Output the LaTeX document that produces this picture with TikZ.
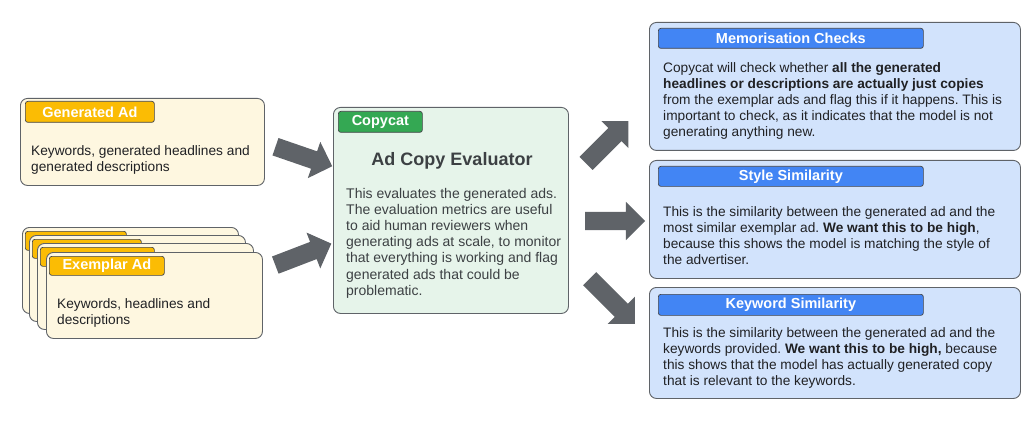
\documentclass[tikz,border=0pt]{standalone}
\usepackage{fontspec}
\setmainfont{Liberation Sans}
\usetikzlibrary{calc,positioning,shapes.arrows}
\frenchspacing

\definecolor{cardCream}{HTML}{FEF7E0}
\definecolor{cardGreen}{HTML}{E6F4EA}
\definecolor{cardBlue}{HTML}{D2E3FC}
\definecolor{tagYellow}{HTML}{FBBC04}
\definecolor{tagGreen}{HTML}{34A853}
\definecolor{tagBlue}{HTML}{4285F4}
\definecolor{edgeGray}{HTML}{5F6368}
\definecolor{inkGray}{HTML}{202124}
\definecolor{softInk}{HTML}{3C4043}

\tikzset{
  card/.style={draw=edgeGray, line width=0.9pt, rounded corners=7pt,
    anchor=north west, inner sep=0pt},
  tag/.style={draw=edgeGray!70!black, line width=0.7pt, rounded corners=2.5pt,
    anchor=north west, inner sep=0pt, text=white,
    font=\fontsize{14.5}{16}\selectfont\bfseries},
  body/.style={anchor=north west, inner sep=0pt, align=left, text=inkGray,
    font=\fontsize{13.7}{16}\selectfont, execute at begin node={\strut}},
  fatarrow/.style={single arrow, fill=edgeGray, inner sep=0pt, inner ysep=9pt,
    minimum height=60pt, single arrow head extend=10pt}
}

% one sheet of the exemplar stack: name, top left corner, tag width
\newcommand{\exSheet}[4]{
    \node[card, fill=cardCream, minimum width=216, minimum height=86] (#1) at #2 {};
    \node[tag, fill=tagYellow, minimum width=#3, minimum height=19]
        (#1Tag) at ($(#1.north west)+(3,4)$) {#4};
}

\begin{document}
\begin{tikzpicture}[x=1pt,y=-1pt]
    \useasboundingbox (0,0) rectangle (1032,422);

    % inputs
    \node[card, fill=cardCream, minimum width=244, minimum height=87] (gen) at (20,98) {};
    \node[tag, fill=tagYellow, minimum width=129, minimum height=21]
        (genTag) at ($(gen.north west)+(5,3)$) {Generated Ad};
    \node[body] (genText) at (31,145.3) {Keywords, generated headlines and\\generated descriptions};

    \exSheet{exA}{(22,227)}{101}{}
    \exSheet{exB}{(29,235)}{109}{}
    \exSheet{exC}{(37,243)}{114}{}
    \exSheet{exD}{(46,252)}{115}{Exemplar Ad}
    \node[body] (exText) at (57,298.8) {Keywords, headlines and\\descriptions};

    % evaluator
    \node[card, fill=cardGreen, minimum width=235, minimum height=206] (eval) at (333,107) {};
    \node[tag, fill=tagGreen, minimum width=84, minimum height=21]
        (evalTag) at ($(eval.north west)+(5,4)$) {Copycat};
    \node[anchor=base, inner sep=0pt, text=softInk, font=\fontsize{18}{20}\selectfont\bfseries]
        (evalTitle) at (452,166) {Ad Copy Evaluator};
    \node[body, text=softInk, font=\fontsize{14}{16.2}\selectfont] (evalText) at (346,187.7)
        {This evaluates the generated ads.\\The evaluation metrics are useful\\to aid human reviewers when\\generating ads at scale, to monitor\\that everything is working and flag\\generated ads that could be\\problematic.};

    % checks
    \node[card, fill=cardBlue, minimum width=371, minimum height=128] (memo) at (649,22) {};
    \node[tag, fill=tagBlue, minimum width=265, minimum height=20]
        (memoTag) at ($(memo.north west)+(9,6)$) {Memorisation Checks};
    \node[body] (memoText) at (663,62.3)
        {Copycat will check whether \textbf{all the generated}\\\textbf{headlines or descriptions are actually just copies}\\from the exemplar ads and flag this if it happens. This is\\important to check, as it indicates that the model is not\\generating anything new.};

    \node[card, fill=cardBlue, minimum width=371, minimum height=118] (style) at (649,160) {};
    \node[tag, fill=tagBlue, minimum width=265, minimum height=20]
        (styleTag) at ($(style.north west)+(9,6)$) {Style Similarity};
    \node[body] (styleText) at (663,206.3)
        {This is the similarity between the generated ad and the\\most similar exemplar ad. \textbf{We want this to be high},\\because this shows the model is matching the style of\\the advertiser.};

    \node[card, fill=cardBlue, minimum width=371, minimum height=111] (kw) at (649,287) {};
    \node[tag, fill=tagBlue, minimum width=265, minimum height=21]
        (kwTag) at ($(kw.north west)+(9,7)$) {Keyword Similarity};
    \node[body] (kwText) at (663,327.3)
        {This is the similarity between the generated ad and the\\keywords provided. \textbf{We want this to be high,} because\\this shows that the model has actually generated copy\\that is relevant to the keywords.};

    % arrows
    \node[fatarrow, rotate=-19] (arGen) at (299.5,155) {};
    \node[fatarrow, rotate=21] (arEx) at (299,256) {};
    \node[fatarrow, rotate=45] (arMemo) at (604,145.5) {};
    \node[fatarrow] (arStyle) at (610.5,221) {};
    \node[fatarrow, rotate=-45, minimum height=64pt] (arKw) at (609,298) {};
\end{tikzpicture}
\end{document}
